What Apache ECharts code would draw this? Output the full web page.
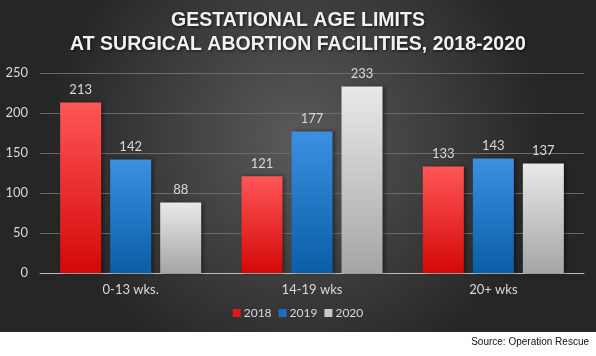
<!DOCTYPE html>
<html>
<head>
<meta charset="utf-8">
<script src="https://cdn.jsdelivr.net/npm/echarts@6/dist/echarts.min.js"></script>
<style>
html,body{margin:0;padding:0;background:#fff;}
#chart{width:596px;height:356px;}
</style>
</head>
<body>
<div id="chart"></div>
<script>
var titleLines = ['GESTATIONAL AGE LIMITS', 'AT SURGICAL ABORTION FACILITIES, 2018-2020'];
var categories = ['0-13 wks.', '14-19 wks', '20+ wks'];
var seriesNames = ['2018', '2019', '2020'];
var values2018 = [213, 121, 133];
var values2019 = [142, 177, 143];
var values2020 = [88, 233, 137];
var yTicks = [0, 50, 100, 150, 200, 250];
var sourceText = 'Source: Operation Rescue';

function vgrad(top, bottom) {
  return new echarts.graphic.LinearGradient(0, 0, 0, 1, [
    {offset: 0, color: top}, {offset: 1, color: bottom}
  ]);
}
var colors = [
  vgrad('#ff5656', '#d40808'),
  vgrad('#3b90e2', '#0a5ea6'),
  vgrad('#e9e9e9', '#a5a5a5')
];
var legendColors = ['#e01818', '#1a6fc0', '#c8c8c8'];
var seriesData = [values2018, values2019, values2020];

var chart = echarts.init(document.getElementById('chart'), null, {renderer: 'canvas'});
var labelFont = 'Lato, "Noto Sans", sans-serif';

var series = seriesNames.map(function (name, i) {
  return {
    name: name,
    type: 'bar',
    data: seriesData[i],
    barWidth: 41,
    barGap: '22%',
    itemStyle: {
      color: colors[i],
      shadowColor: 'rgba(0,0,0,0.45)',
      shadowBlur: 4,
      shadowOffsetX: 2,
      shadowOffsetY: 0
    },
    label: {
      show: true,
      position: 'top',
      distance: 6,
      color: '#d9d9d9',
      fontSize: 13,
      fontFamily: labelFont
    }
  };
});

chart.setOption({
  backgroundColor: '#ffffff',
  animation: false,
  graphic: [
    {
      type: 'rect',
      z: -10,
      silent: true,
      shape: {x: 0, y: 0, width: 596, height: 332},
      style: {
        fill: new echarts.graphic.RadialGradient(0.5, 0.42, 0.75, [
          {offset: 0, color: '#5a5a5a'},
          {offset: 1, color: '#262626'}
        ])
      }
    },
    {
      type: 'text',
      right: 7,
      top: 337,
      style: {
        text: sourceText,
        fill: '#111111',
        font: '10px "Liberation Sans", Arial, sans-serif'
      }
    }
  ],
  title: {
    text: titleLines.join('\n'),
    left: 'center',
    top: 8.5,
    padding: 0,
    textStyle: {
      color: '#f2f2f2',
      fontSize: 19.5,
      fontWeight: 'bold',
      fontFamily: '"Liberation Sans", Arial, sans-serif',
      lineHeight: 24.4,
      textShadowColor: 'rgba(0,0,0,0.7)',
      textShadowBlur: 3,
      textShadowOffsetX: 1,
      textShadowOffsetY: 1
    }
  },
  legend: {
    data: seriesNames.map(function (n, i) { return {name: n, itemStyle: {color: legendColors[i]}}; }),
    left: 'center',
    top: 302,
    itemWidth: 8,
    itemHeight: 8,
    itemGap: 7,
    icon: 'rect',
    textStyle: {color: '#d9d9d9', fontSize: 12, fontFamily: labelFont, padding: [0, 0, 0, -2]}
  },
  grid: {left: 40, right: 12, top: 73, bottom: 83, containLabel: false},
  xAxis: {
    type: 'category',
    data: categories,
    axisLine: {lineStyle: {color: '#bdbdbd', width: 1}},
    axisTick: {show: false},
    axisLabel: {color: '#d9d9d9', fontSize: 13, fontFamily: labelFont, margin: 10}
  },
  yAxis: {
    type: 'value',
    min: yTicks[0],
    max: yTicks[yTicks.length - 1],
    interval: yTicks[1] - yTicks[0],
    axisLine: {show: false},
    axisTick: {show: false},
    axisLabel: {color: '#d9d9d9', fontSize: 13, fontFamily: labelFont, margin: 12},
    splitLine: {lineStyle: {color: '#6b6b6b', width: 1}}
  },
  series: series
});
</script>
</body>
</html>
